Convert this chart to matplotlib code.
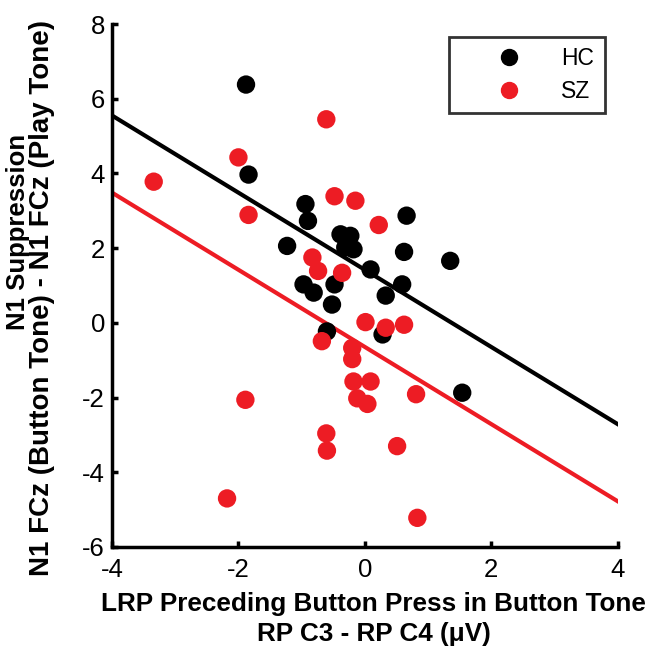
import numpy as np
import matplotlib
matplotlib.use('Agg')
import matplotlib.pyplot as plt
from matplotlib.lines import Line2D

# ---- data ----
hc_x = [-1.88, -1.84, -0.94, -0.90, -1.23, -0.385, -0.23, -0.31, -0.18, 0.66, 0.62,
        0.09, -0.97, -0.81, -0.48, -0.52, 0.33, 0.59, -0.60, 0.28, 1.35, 1.54]
hc_y = [6.38, 3.97, 3.18, 2.73, 2.06, 2.37, 2.33, 2.02, 1.97, 2.87, 1.90,
        1.43, 1.03, 0.81, 1.03, 0.49, 0.73, 1.03, -0.23, -0.31, 1.66, -1.87]

sz_x = [-3.34, -2.00, -1.84, -0.61, -0.48, -0.15, 0.22, -0.83, -0.74, -0.36, 0.01,
        0.33, 0.62, -0.68, -0.20, -0.20, -0.18, 0.09, -0.12, 0.04, 0.81, 0.51,
        0.83, -1.89, -2.18, -0.61, -0.60]
sz_y = [3.78, 4.43, 2.89, 5.45, 3.39, 3.27, 2.62, 1.75, 1.39, 1.34, 0.02,
        -0.13, -0.05, -0.49, -0.67, -0.97, -1.57, -1.57, -2.02, -2.17, -1.91, -3.30,
        -5.22, -2.06, -4.70, -2.96, -3.42]

# fitted lines (common slope, separate intercepts)
slope = -1.033
hc_intercept = 1.42
sz_intercept = -0.645

x_ticks = [-4, -2, 0, 2, 4]
y_ticks = [-6, -4, -2, 0, 2, 4, 6, 8]

red = '#ED1C24'

plt.rcParams['font.family'] = ['Liberation Sans', 'DejaVu Sans']
plt.rcParams['axes.unicode_minus'] = False

fig = plt.figure(figsize=(6.53, 6.5), dpi=100)
ax = fig.add_axes([0.1715, 0.1585, 0.7745, 0.8045])

line_x = np.array([-4, 4])
ax.plot(line_x, hc_intercept + slope * line_x, color='black', lw=3, zorder=1)
ax.plot(line_x, sz_intercept + slope * line_x, color=red, lw=3, zorder=1)

ax.scatter(hc_x, hc_y, s=175, color='black', edgecolors='none', zorder=2)
ax.scatter(sz_x, sz_y, s=175, color=red, edgecolors='none', zorder=3)

ax.set_xlim(-4, 4)
ax.set_ylim(-6, 8)
ax.set_xticks(x_ticks)
ax.set_yticks(y_ticks)
ax.spines[['top', 'right']].set_visible(False)
ax.spines[['left', 'bottom']].set_linewidth(2.5)
ax.tick_params(direction='in', length=4, width=2.5, labelsize=18.5, pad=5)
ax.tick_params(axis='x', pad=8)

# axis titles
fs_lab = 18.8
fig.text(0.572, 0.0708, 'LRP Preceding Button Press in Button Tone',
         ha='center', va='center', fontsize=fs_lab, fontweight='bold')
fig.text(0.572, 0.0246, 'RP C3 - RP C4 (\u03bcV)',
         ha='center', va='center', fontsize=fs_lab, fontweight='bold')
fig.text(0.027, 0.643, 'N1 Suppression', rotation=90,
         ha='center', va='center', fontsize=18.5, fontweight='bold')
fig.text(0.065, 0.5415, 'N1 FCz (Button Tone) - N1 FCz (Play Tone)', rotation=90,
         ha='center', va='center', fontsize=20, fontweight='bold')

# legend
handles = [Line2D([], [], ls='none', marker='o', color='black', markersize=11.5),
           Line2D([], [], ls='none', marker='o', color=red, markersize=11.5)]
leg = ax.legend(handles, ['HC', 'SZ'], loc='upper right', bbox_to_anchor=(0.974, 0.975),
                fontsize=16.5, frameon=True, fancybox=False, handletextpad=0.1,
                borderpad=0.45, labelspacing=0.4, borderaxespad=0,
                handlelength=4.35)
leg.get_frame().set_edgecolor('black')
leg.get_frame().set_linewidth(2)

fig.savefig('out.png', dpi=100)
